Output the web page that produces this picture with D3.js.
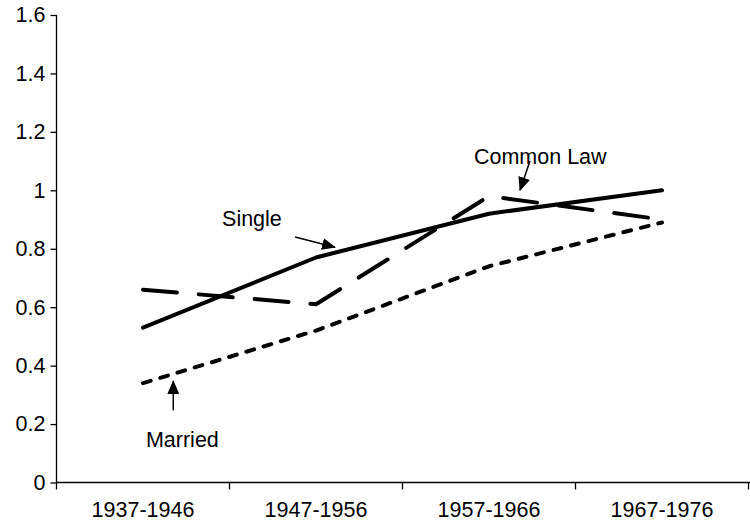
<!DOCTYPE html>
<html><head><meta charset="utf-8">
<script src="https://cdn.jsdelivr.net/npm/d3@7"></script>
<style>html,body{margin:0;padding:0;background:#fff;}svg{display:block;}</style>
</head><body><svg id="c" width="750" height="523"></svg>
<script>
const categories = ["1937-1946","1947-1956","1957-1966","1967-1976"];
const single = [0.53, 0.77, 0.92, 1.00];
const commonLaw = [0.66, 0.61, 0.98, 0.90];
const married = [0.34, 0.52, 0.74, 0.89];
const yTicks = [0,0.2,0.4,0.6,0.8,1,1.2,1.4,1.6];
// annotations in data space: category index (fractional), value
const labels = [
  {text:"Single", tx:0.457, tv:0.877, ax1:0.879, av1:0.84, ax2:1.11, av2:0.805},
  {text:"Common Law", tx:1.913, tv:1.089, ax1:2.237, av1:1.10, ax2:2.179, av2:1.0},
  {text:"Married", tx:0.017, tv:0.123, ax1:0.175, av1:0.247, ax2:0.175, av2:0.347}
];

const svg = d3.select("#c");
const mLeft = 56.5, mRight = 748.5, mTop = 15, mBottom = 482.5;
const x = d3.scaleBand().domain(categories).range([mLeft, mRight]).padding(0);
const y = d3.scaleLinear().domain([0,1.6]).range([mBottom, mTop]);
const bw = x.bandwidth();
const xi = i => mLeft + (i + 0.5) * bw;
const font = "Arial, 'Liberation Sans', sans-serif";
const fs = 21.5;

// y axis
const ya = svg.append("g").attr("transform", `translate(${mLeft},0)`)
  .call(d3.axisLeft(y).tickValues(yTicks).tickSize(6).tickPadding(5).tickFormat(d3.format("~g")));
ya.select(".domain").attr("stroke","#000").attr("stroke-width",1.3).attr("d",`M0,${mTop}V${mBottom}`);
ya.selectAll(".tick line").attr("stroke","#000").attr("stroke-width",1.3);
ya.selectAll("text").attr("font-family",font).attr("font-size",fs).attr("fill","#000");

// x axis
const xa = svg.append("g").attr("transform", `translate(0,${mBottom})`)
  .call(d3.axisBottom(x).tickSize(0).tickPadding(19));
xa.select(".domain").attr("stroke","#000").attr("stroke-width",1.3).attr("d",`M${mLeft},0H750`);
xa.selectAll("text").attr("font-family",font).attr("font-size",fs).attr("fill","#000");
const bounds = categories.map(c => x(c)).concat([mRight]);
xa.selectAll(".bt").data(bounds).enter().append("line").attr("class","bt")
  .attr("x1", d=>d).attr("x2", d=>d).attr("y1",0).attr("y2",7)
  .attr("stroke","#000").attr("stroke-width",1.3);

// lines
const line = d3.line().x((d,i)=>x(categories[i]) + bw/2).y(d=>y(d));
const series = [
  {v: married, dash: "8,10"},
  {v: commonLaw, dash: "34,22"},
  {v: single, dash: null}
];
series.forEach(s => {
  const p = svg.append("path").datum(s.v).attr("d", line)
    .attr("fill","none").attr("stroke","#000").attr("stroke-width",4)
    .attr("stroke-linecap","round").attr("stroke-linejoin","round");
  if (s.dash) p.attr("stroke-dasharray", s.dash);
});

// arrowhead marker
svg.append("defs").append("marker").attr("id","ah")
  .attr("viewBox","0 0 14 12").attr("refX",13).attr("refY",6)
  .attr("markerWidth",14).attr("markerHeight",12).attr("markerUnits","userSpaceOnUse")
  .attr("orient","auto")
  .append("path").attr("d","M0,0L14,6L0,12Z").attr("fill","#000");

labels.forEach(l => {
  svg.append("text").attr("x", xi(l.tx)).attr("y", y(l.tv))
    .attr("font-family",font).attr("font-size",fs).attr("fill","#000").text(l.text);
  svg.append("line").attr("x1", xi(l.ax1)).attr("y1", y(l.av1))
    .attr("x2", xi(l.ax2)).attr("y2", y(l.av2))
    .attr("stroke","#000").attr("stroke-width",1.5).attr("marker-end","url(#ah)");
});
</script></body></html>
